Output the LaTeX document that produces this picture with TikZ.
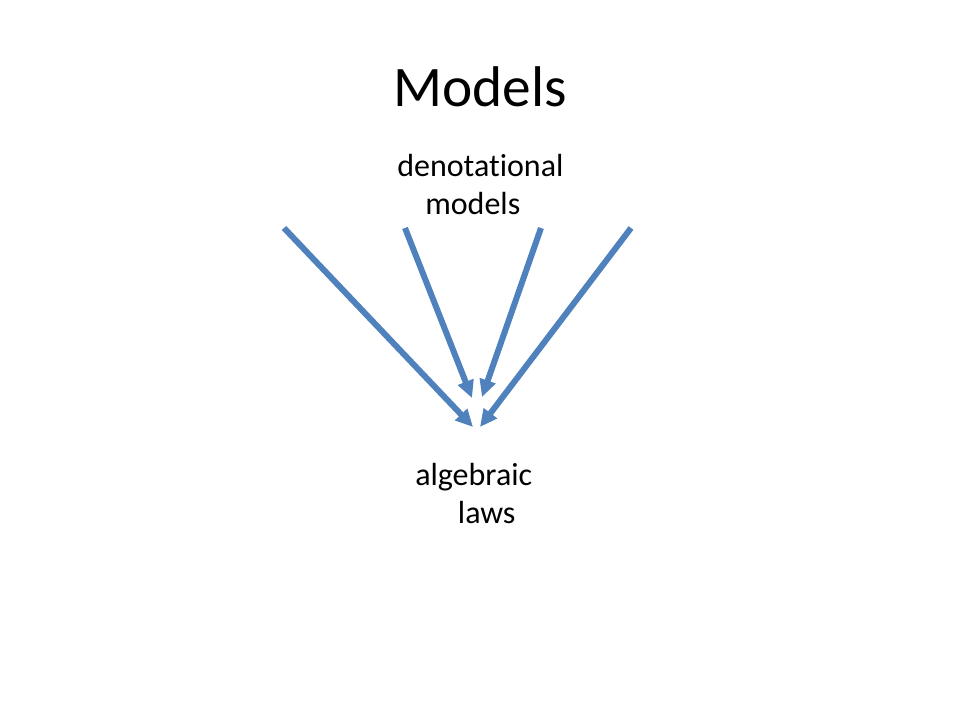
\documentclass[tikz,border=0pt]{standalone}
\usepackage{fontspec}
\setmainfont{Carlito}[Ligatures=NoCommon]
\usetikzlibrary{arrows.meta}
\definecolor{slideBlue}{RGB}{79,129,189}
\tikzstyle{titleText} = [inner sep=0pt,
                         anchor=base,
                         font=\fontsize{43}{52}\selectfont]
\tikzstyle{labelText} = [inner sep=0pt,
                         anchor=base west,
                         align=left,
                         font=\fontsize{24}{28.5}\selectfont]
\tikzstyle{arrow}     = [line width=4.5pt, draw=slideBlue,
                         -{Triangle[length=13pt, width=12pt]}]

\begin{document}
\begin{tikzpicture}[x=0.75pt, y=-0.75pt]
        \useasboundingbox (0,0) rectangle (960,720);

        \node [titleText] (title) at (480,107) {Models};
        % base of a two-line node is its last line
        \node [labelText] (denot) at (397,215) {denotational\\\hspace*{21pt}models};
        \node [labelText] (laws)  at (415,523) {algebraic\\\hspace*{32pt}laws};

        % tails
        \coordinate (outerL) at (284,228);
        \coordinate (innerL) at (405,228);
        \coordinate (innerR) at (541,228);
        \coordinate (outerR) at (631,228);
        % heads
        \coordinate (outerLEnd) at (473,427);
        \coordinate (innerLEnd) at (472,398);
        \coordinate (innerREnd) at (482,397);
        \coordinate (outerREnd) at (480,427);

        \draw [arrow] (outerL) -- (outerLEnd);
        \draw [arrow] (innerL) -- (innerLEnd);
        \draw [arrow] (innerR) -- (innerREnd);
        \draw [arrow] (outerR) -- (outerREnd);

    \end{tikzpicture}
\end{document}
